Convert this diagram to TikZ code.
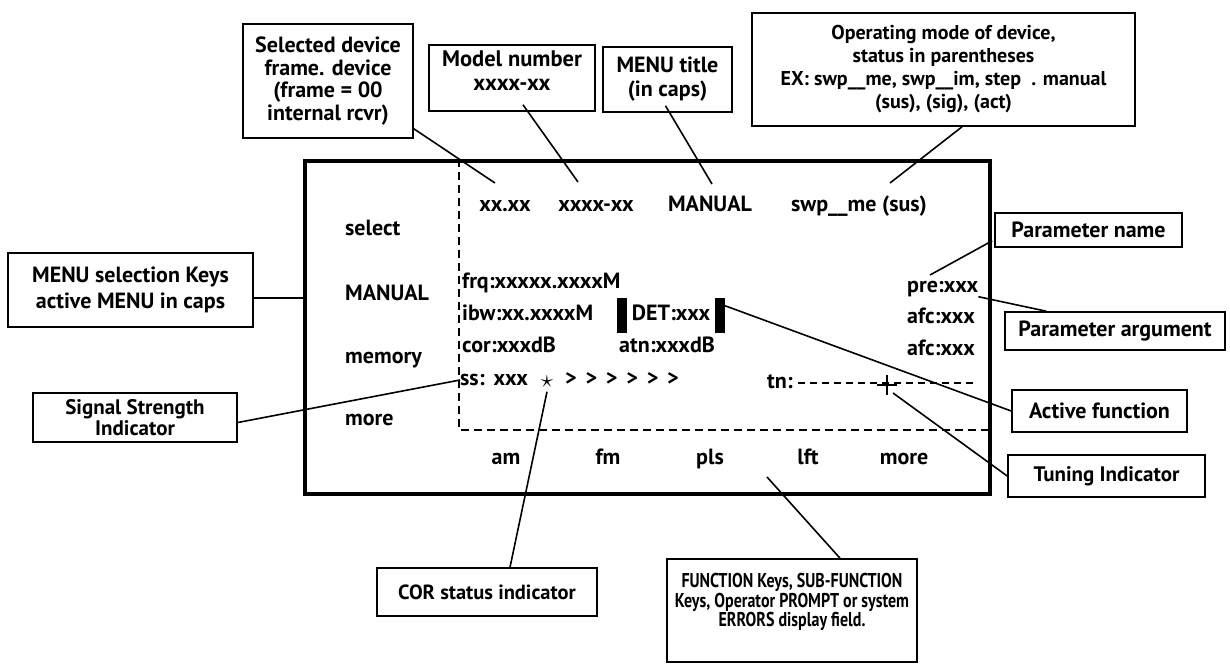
\documentclass[tikz,border=0pt]{standalone}
\usepackage{fontspec}
\usepackage{graphicx}
\setmainfont{PT Sans}
\usetikzlibrary{calc}
\begin{document}
\begin{tikzpicture}[x=1pt,y=-1pt,
  every node/.style={font=\fontsize{22}{22.5}\selectfont\bfseries, inner sep=0pt},
  lbl/.style={draw, line width=1.6pt, align=center},
  txt/.style={text height=15pt, text depth=4pt},
  conn/.style={line width=1.6pt},
  dashline/.style={line width=2pt, dash pattern=on 8pt off 5pt},
]
\useasboundingbox (0,0) rectangle (1230,664);

% main display box
\node[draw, line width=4.5pt, minimum width=685pt, minimum height=333pt] (main) at (647.5,327.5) {};
\coordinate (dcorner) at (459,430);
\draw[dashline] (main.north -| dcorner) -- (dcorner) -- (dcorner -| main.east);

% top row
\node[txt] (frdev) at (505,206) {xx.xx};
\node[txt] (modnum) at (596,206) {xxxx-xx};
\node[txt] (mtitle) at (710,206) {MANUAL};
\node[txt] (opm) at (859,206) {swp\_\_me (sus)};

% left menu column
\node[txt, anchor=west] (mselect) at (345,230) {select};
\node[txt, anchor=west] (mmanual) at (345,295) {MANUAL};
\node[txt, anchor=west] (mmemory) at (345,358) {memory};
\node[txt, anchor=west] (mmore) at (345,420) {more};

% parameter area
\node[txt, anchor=west] (frq) at (462,283) {frq:xxxxx.xxxxM};
\node[txt, anchor=west] (ibw) at (462,315) {ibw:xx.xxxxM};
\node[txt, anchor=west] (cor) at (462,347) {cor:xxxdB};
\node[txt, anchor=west] (ss) at (460,380) {ss:\hspace{9pt}xxx};
\node[txt, font=\fontsize{30}{30}\selectfont] (star) at (547,382) {$\star$};
\node[txt, anchor=west] (arrows) at (565,380) {>\hspace{8.8pt}>\hspace{8.8pt}>\hspace{8.8pt}>\hspace{8.8pt}>\hspace{8.8pt}>};
\node[txt] (det) at (671,315) {DET:xxx};
\node[fill, minimum width=10pt, minimum height=35pt] (detL) at (622,315.5) {};
\node[fill, minimum width=10pt, minimum height=35pt] (detR) at (720,315.5) {};
\node[txt] (atn) at (667,347) {atn:xxxdB};
\node[txt, anchor=west] (tn) at (767,383) {tn:};
\coordinate (tnend) at (977,383);
\draw[line width=1.8pt, dash pattern=on 7pt off 5pt] ($(tn.east)+(5,0)$) -- (tnend);
\coordinate (plus) at (887,385);
\draw[line width=2pt] ($(plus)+(-10,0)$) -- ($(plus)+(10,0)$) ($(plus)+(0,-10)$) -- ($(plus)+(0,10)$);
\node[txt, anchor=west] (pre) at (907,287) {pre:xxx};
\node[txt, anchor=west] (afc1) at (907,318) {afc:xxx};
\node[txt, anchor=west] (afc2) at (907,350) {afc:xxx};

% bottom function row
\node[txt] (fam) at (506,459) {am};
\node[txt] (ffm) at (608,459) {fm};
\node[txt] (fpls) at (710,459) {pls};
\node[txt] (flft) at (808,459) {lft};
\node[txt] (fmore) at (904,459) {more};

% annotation boxes
\node[lbl, minimum width=170pt, minimum height=114pt] (sel) at (328,81) {Selected device\\frame. device\\(frame = 00\\internal rcvr)};
\node[lbl, minimum width=166pt, minimum height=66pt] (model) at (512,78) {};
\node[align=center, font=\fontsize{22.5}{24}\selectfont\bfseries] (modeltext) at ($(model.center)+(0,-7)$) {Model number\\xxxx-xx};
\node[lbl, minimum width=129pt, minimum height=65pt, font=\fontsize{22}{24}\selectfont\bfseries] (menut) at (667.5,79.5) {MENU title\\(in caps)};
\node[lbl, minimum width=383pt, minimum height=113pt, font=\fontsize{20}{23}\selectfont\bfseries] (opmode) at (943.5,69.5) {Operating mode of device,\\status in parentheses\\EX: swp\_\_me, swp\_\_im, step~~. manual\\(sus), (sig), (act)};
\node[lbl, minimum width=245pt, minimum height=74pt, font=\fontsize{22}{26}\selectfont\bfseries] (menusel) at (130.5,290) {MENU selection Keys\\active MENU in caps};
\node[lbl, minimum width=204pt, minimum height=49pt, font=\fontsize{21}{18}\selectfont\bfseries] (sigstr) at (135,417.5) {Signal Strength\\Indicator};
\node[lbl, minimum width=220pt, minimum height=48pt, font=\fontsize{20.5}{22}\selectfont\bfseries] (corbox) at (487,592) {COR status indicator};
\node[lbl, minimum width=250pt, minimum height=103pt] (func) at (792,610.5) {};
\node[anchor=north, align=center, font=\fontsize{20}{19.5}\selectfont\bfseries] (functext) at ($(func.north)+(0,15)$) {\scalebox{0.8}[1]{FUNCTION Keys, SUB-FUNCTION}\\\scalebox{0.8}[1]{Keys, Operator PROMPT or system}\\\scalebox{0.8}[1]{ERRORS display field.}};
\node[lbl, minimum width=187pt, minimum height=34pt] (pname) at (1088.5,230) {Parameter name};
\node[lbl, minimum width=220pt, minimum height=38pt] (parg) at (1115,331) {Parameter argument};
\node[lbl, minimum width=175pt, minimum height=42pt] (active) at (1099.5,411) {Active function};
\node[lbl, minimum width=197pt, minimum height=42pt, font=\fontsize{21}{22}\selectfont\bfseries] (tuning) at (1106.5,476) {Tuning Indicator};

% connectors
\coordinate (e1) at (495,183);
\coordinate (e2) at (578,182);
\coordinate (e3) at (712,184);
\coordinate (e4) at (890,183);
\coordinate (e9) at (930,275);
\coordinate (e8) at (767,477);
\draw[conn] ($(sel.south east)+(0,-10)$) -- (e1);
\draw[conn] ($(model.south)+(11,-7)$) -- (e2);
\draw[conn] ($(menut.south)+(-2,-7)$) -- (e3);
\draw[conn] ($(opmode.south)+(18.5,0)$) -- (e4);
\draw[conn] ($(menusel.east)+(0,8)$) -- ($(main.west |- menusel.east)+(0,8)$);
\draw[conn] ($(sigstr.east)+(0,5)$) -- (ss.west);
\draw[conn] ($(corbox.north)+(23,0)$) -- (star.south);
\draw[conn] ($(func.north)+(48,0)$) -- (e8);
\draw[conn] ($(pname.south west)+(-2,-7)$) -- (e9);
\draw[conn] (pre.south east) -- ($(parg.north west)+(42,0)$);
\draw[conn] ($(detR.north east)+(0,8)$) -- (active.west);
\draw[conn] ($(plus)+(6,8)$) -- (tuning.west);
\end{tikzpicture}
\end{document}
